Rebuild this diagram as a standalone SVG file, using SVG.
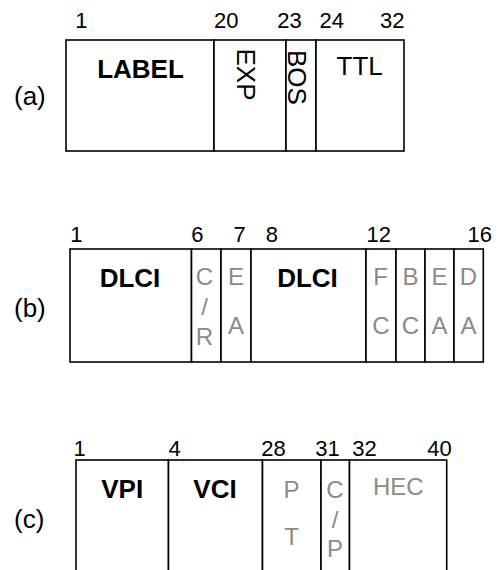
<svg xmlns="http://www.w3.org/2000/svg" width="501" height="570" viewBox="0 0 501 570">
<style>
.box{fill:#fff;stroke:#000;stroke-width:1.6}
.ln{stroke:#000;stroke-width:1.6}
.num{font-family:"Liberation Sans",Arial,sans-serif;font-size:22px;fill:#000}
.lab{font-family:"Liberation Sans",Arial,sans-serif;font-size:26px;fill:#000}
.bold{font-family:"Liberation Sans",Arial,sans-serif;font-size:26px;font-weight:bold;fill:#000;text-anchor:middle}
.reg{font-family:"Liberation Sans",Arial,sans-serif;font-size:26px;fill:#000}
.gray{font-family:"Liberation Sans",Arial,sans-serif;font-size:24px;fill:#8a8a8a;text-anchor:middle}
</style>
<rect width="501" height="570" fill="#fff"/>

<!-- (a) MPLS -->
<g id="row-a">
  <text class="lab" x="14" y="104.5">(a)</text>
  <g id="a-label"><rect class="box" x="66" y="40" width="148" height="111"/><text class="bold" x="140.5" y="78">LABEL</text></g>
  <g id="a-exp"><rect class="box" x="214" y="40" width="72" height="111"/><text class="reg" transform="translate(236.5,48.5) rotate(90)">EXP</text></g>
  <g id="a-bos"><rect class="box" x="286" y="40" width="30" height="111"/><text class="reg" transform="translate(288.3,50) rotate(90)">BOS</text></g>
  <g id="a-ttl"><rect class="box" x="316" y="40" width="88" height="111"/><text class="reg" x="359.7" y="75" text-anchor="middle">TTL</text></g>
  <g id="a-nums">
    <text class="num" x="75.3" y="28">1</text>
    <text class="num" x="214" y="28">20</text>
    <text class="num" x="277.3" y="28">23</text>
    <text class="num" x="319.5" y="28">24</text>
    <text class="num" x="404.5" y="28" text-anchor="end">32</text>
  </g>
</g>

<!-- (b) Frame Relay -->
<g id="row-b">
  <text class="lab" x="14" y="316.5">(b)</text>
  <g id="b-dlci1"><rect class="box" x="70" y="249" width="121.5" height="113"/><text class="bold" x="130" y="287">DLCI</text></g>
  <g id="b-cr"><rect class="box" x="191.5" y="249" width="29.5" height="113"/>
    <text class="gray" x="204.5" y="285">C</text><text class="gray" x="204.5" y="315">/</text><text class="gray" x="204.5" y="345">R</text></g>
  <g id="b-ea1"><rect class="box" x="221" y="249" width="30" height="113"/>
    <text class="gray" x="236" y="285">E</text><text class="gray" x="236" y="333.5">A</text></g>
  <g id="b-dlci2"><rect class="box" x="251" y="249" width="115" height="113"/><text class="bold" x="307.5" y="287">DLCI</text></g>
  <g id="b-fc"><rect class="box" x="366" y="249" width="30" height="113"/>
    <text class="gray" x="380.5" y="284.5">F</text><text class="gray" x="381" y="333.5">C</text></g>
  <g id="b-bc"><rect class="box" x="396" y="249" width="29" height="113"/>
    <text class="gray" x="410.5" y="284.5">B</text><text class="gray" x="410.5" y="333.5">C</text></g>
  <g id="b-ea2"><rect class="box" x="425" y="249" width="29" height="113"/>
    <text class="gray" x="439.5" y="284.5">E</text><text class="gray" x="439.5" y="333.5">A</text></g>
  <g id="b-da"><rect class="box" x="454" y="249" width="29.3" height="113"/>
    <text class="gray" x="468.5" y="284.5">D</text><text class="gray" x="468.5" y="333.5">A</text></g>
  <g id="b-nums">
    <text class="num" x="70.3" y="242">1</text>
    <text class="num" x="191.3" y="242">6</text>
    <text class="num" x="233.5" y="242">7</text>
    <text class="num" x="265.7" y="242">8</text>
    <text class="num" x="366.6" y="242">12</text>
    <text class="num" x="467.6" y="242">16</text>
  </g>
</g>

<!-- (c) ATM -->
<g id="row-c">
  <text class="lab" x="14" y="528">(c)</text>
  <g id="c-vpi"><rect class="box" x="76" y="460" width="92.5" height="130"/><text class="bold" x="122.2" y="498">VPI</text></g>
  <g id="c-vci"><rect class="box" x="168.5" y="460" width="94" height="130"/><text class="bold" x="215" y="498">VCI</text></g>
  <g id="c-pt"><rect class="box" x="262.5" y="460" width="58.5" height="130"/>
    <text class="gray" x="291.5" y="498">P</text><text class="gray" x="291.5" y="545">T</text></g>
  <g id="c-cp"><rect class="box" x="321" y="460" width="28.5" height="130"/>
    <text class="gray" x="335" y="498">C</text><text class="gray" x="335" y="528">/</text><text class="gray" x="335" y="557">P</text></g>
  <g id="c-hec"><rect class="box" x="349.5" y="460" width="97.2" height="130"/><text class="gray" x="398.3" y="495">HEC</text></g>
  <g id="c-nums">
    <text class="num" x="73.6" y="456">1</text>
    <text class="num" x="168.5" y="456">4</text>
    <text class="num" x="261.3" y="456">28</text>
    <text class="num" x="315.3" y="456">31</text>
    <text class="num" x="352.3" y="456">32</text>
    <text class="num" x="427.3" y="456">40</text>
  </g>
</g>
<g id="connectors"></g>
</svg>
